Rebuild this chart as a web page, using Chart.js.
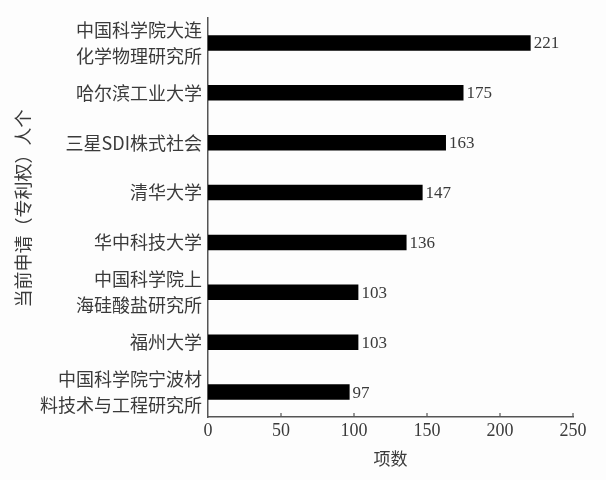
<!DOCTYPE html>
<html lang="zh-CN">
<head>
  <meta charset="UTF-8">
  <title>申请人专利数</title>
  <script src="https://cdn.jsdelivr.net/npm/chart.js"></script>
  <style>
    html, body { margin: 0; padding: 0; background: #fdfdfd; }
    #wrap { width: 606px; height: 480px; }
  </style>
</head>
<body>
  <div id="wrap"><canvas id="barChart" width="606" height="480"></canvas></div>

  <script>
    // 数据
    const categories = [
      ['中国科学院大连', '化学物理研究所'],
      '哈尔滨工业大学',
      '三星SDI株式社会',
      '清华大学',
      '华中科技大学',
      ['中国科学院上', '海硅酸盐研究所'],
      '福州大学',
      ['中国科学院宁波材', '料技术与工程研究所']
    ];
    const counts = [221, 175, 163, 147, 136, 103, 103, 97];
    const xTicks = [0, 50, 100, 150, 200, 250];

    const serif = '"Liberation Serif", "DejaVu Serif", serif';
    const cjk = '"Noto Sans CJK SC", sans-serif';
    const textColor = '#3a3a3a';

    // 柱端数值 + 朝内的刻度线
    const extras = {
      id: 'extras',
      afterDatasetsDraw(chart) {
        const ctx = chart.ctx;
        const meta = chart.getDatasetMeta(0);
        ctx.save();
        ctx.fillStyle = textColor;
        ctx.font = '17px ' + serif;
        ctx.textBaseline = 'middle';
        ctx.textAlign = 'left';
        meta.data.forEach((bar, i) => {
          ctx.fillText(String(counts[i]), bar.x + 3, bar.y + 1);
        });
        const x = chart.scales.x;
        const yb = chart.chartArea.bottom;
        ctx.strokeStyle = '#555';
        ctx.lineWidth = 1.2;
        xTicks.forEach(v => {
          if (v === 0) return;
          const px = x.getPixelForValue(v);
          ctx.beginPath();
          ctx.moveTo(px, yb);
          ctx.lineTo(px, yb - 4);
          ctx.stroke();
        });
        ctx.restore();
      }
    };

    new Chart(document.getElementById('barChart'), {
      type: 'bar',
      data: {
        labels: categories,
        datasets: [{
          data: counts,
          backgroundColor: '#000',
          borderWidth: 0,
          categoryPercentage: 1,
          barPercentage: 0.31
        }]
      },
      options: {
        indexAxis: 'y',
        responsive: false,
        animation: false,
        layout: { padding: { top: 18, right: 33, bottom: 0, left: 0 } },
        plugins: { legend: { display: false }, tooltip: { enabled: false } },
        scales: {
          x: {
            min: 0,
            max: 250,
            afterBuildTicks(scale) { scale.ticks = xTicks.map(v => ({ value: v })); },
            afterFit(scale) { scale.height = 63; },
            grid: { display: false, drawTicks: false },
            border: { display: true, color: '#555', width: 1.5 },
            ticks: {
              color: textColor,
              padding: 3,
              font: { family: serif, size: 18 }
            },
            title: {
              display: true,
              text: '项数',
              color: textColor,
              padding: { top: 4, bottom: 11 },
              font: { family: cjk, size: 17 }
            }
          },
          y: {
            afterFit(scale) {
              scale.width = 208;
              scale.paddingTop = 0;
              scale.paddingBottom = 0;
            },
            grid: { display: false, drawTicks: false },
            border: { display: true, color: '#555', width: 1.5 },
            ticks: {
              autoSkip: false,
              color: textColor,
              padding: 6,
              font: { family: cjk, size: 18, lineHeight: 1.45 }
            },
            title: {
              display: true,
              text: '　当前申请（专利权）人个',
              color: textColor,
              padding: { top: 12, bottom: 0 },
              font: { family: cjk, size: 18 }
            }
          }
        }
      },
      plugins: [extras]
    });
  </script>
</body>
</html>
